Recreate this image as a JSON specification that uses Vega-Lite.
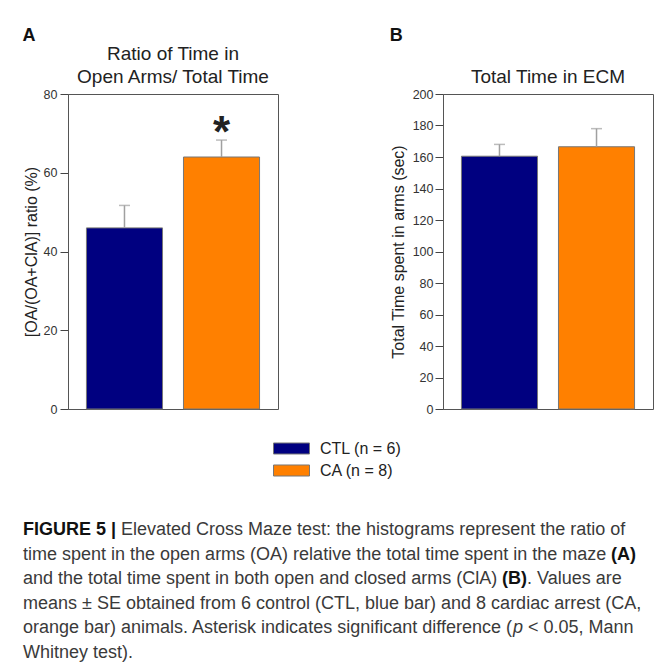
{
  "$schema": "https://vega.github.io/schema/vega-lite/v6.json",
  "background": "white",
  "padding": {"left": 22, "top": 26, "right": 0, "bottom": 0},
  "config": {
    "font": "Liberation Sans",
    "view": {"stroke": "#555", "strokeWidth": 1},
    "axis": {"labelFont": "Liberation Sans", "labelFontSize": 12.5, "labelColor": "#333", "tickColor": "#444", "domainColor": "#555", "grid": false, "titleFont": "Liberation Sans", "titleFontWeight": "normal", "titleFontSize": 16, "titleColor": "#222", "tickSize": 8, "labelPadding": 3, "labelOverlap": false},
    "title": {"font": "Liberation Sans", "color": "#222"},
    "text": {"font": "Liberation Sans"}
  },
  "datasets": {
    "ratio": [
      {"group": "CTL (n = 6)", "mean": 46, "upper": 51.7, "sig": ""},
      {"group": "CA (n = 8)", "mean": 64, "upper": 68.3, "sig": "*"}
    ],
    "total": [
      {"group": "CTL (n = 6)", "mean": 160.5, "upper": 168},
      {"group": "CA (n = 8)", "mean": 166.5, "upper": 178}
    ],
    "caption": [
      {"line": 1, "seg": "b0", "text": "FIGURE 5 |"},
      {"line": 1, "seg": "n1", "text": "Elevated Cross Maze test: the histograms represent the ratio of"},
      {"line": 2, "seg": "n0", "text": "time spent in the open arms (OA) relative the total time spent in the maze"},
      {"line": 2, "seg": "bA", "text": "(A)"},
      {"line": 3, "seg": "n0", "text": "and the total time spent in both open and closed arms (ClA)"},
      {"line": 3, "seg": "bB", "text": "(B)"},
      {"line": 3, "seg": "n3", "text": ". Values are"},
      {"line": 4, "seg": "n0", "text": "means ± SE obtained from 6 control (CTL, blue bar) and 8 cardiac arrest (CA,"},
      {"line": 5, "seg": "n0", "text": "orange bar) animals. Asterisk indicates significant difference ("},
      {"line": 5, "seg": "ip", "text": "p"},
      {"line": 5, "seg": "n5", "text": "< 0.05, Mann"},
      {"line": 6, "seg": "n0", "text": "Whitney test)."}
    ]
  },
  "spacing": 105,
  "vconcat": [
    {
      "spacing": 110,
      "hconcat": [
        {
          "title": {"text": "A", "anchor": "start", "frame": "bounds", "fontSize": 18, "fontWeight": "bold", "color": "#111", "offset": 0},
          "vconcat": [
            {
              "width": 210,
              "height": 315,
              "title": {"text": ["Ratio of Time in", "Open Arms/ Total Time"], "fontSize": 19, "fontWeight": "normal", "lineHeight": 23, "frame": "group", "anchor": "middle", "offset": 1},
              "data": {"name": "ratio"},
              "encoding": {
                "x": {"field": "group", "type": "nominal", "scale": {"domain": ["CTL (n = 6)", "CA (n = 8)"], "paddingInner": 0.216, "paddingOuter": 0.19}, "axis": null}
              },
              "layer": [
                {
                  "mark": {"type": "bar", "stroke": "#777", "strokeWidth": 1},
                  "encoding": {
                    "y": {"field": "mean", "type": "quantitative", "title": "[OA/(OA+ClA)] ratio (%)", "scale": {"domain": [0, 80], "nice": false}, "axis": {"values": [0, 20, 40, 60, 80], "titlePadding": 4}},
                    "color": {"field": "group", "type": "nominal", "scale": {"domain": ["CTL (n = 6)", "CA (n = 8)"], "range": ["#000080", "#ff8000"]},
                      "legend": {"orient": "none", "legendX": 205, "legendY": 346.5, "title": null, "symbolType": "M-1,-0.3056H1V0.3056H-1Z", "symbolSize": 1296, "symbolStrokeColor": "#666", "symbolStrokeWidth": 1, "labelFontSize": 16, "labelFont": "Liberation Sans", "labelColor": "#222", "labelOffset": 10, "clipHeight": 16, "rowPadding": 6}}
                  }
                },
                {
                  "mark": {"type": "rule", "color": "#a0a0a0", "strokeWidth": 1.5},
                  "encoding": {"y": {"field": "mean", "type": "quantitative", "title": "[OA/(OA+ClA)] ratio (%)", "axis": {"values": [0, 20, 40, 60, 80], "titlePadding": 4}}, "y2": {"field": "upper"}}
                },
                {
                  "mark": {"type": "tick", "color": "#a0a0a0", "thickness": 1.5, "size": 11},
                  "encoding": {"y": {"field": "upper", "type": "quantitative", "title": "[OA/(OA+ClA)] ratio (%)", "axis": {"values": [0, 20, 40, 60, 80], "titlePadding": 4}}}
                },
                {
                  "mark": {"type": "text", "fontSize": 44, "fontWeight": "bold", "color": "#222", "baseline": "alphabetic", "dy": 7},
                  "encoding": {"y": {"field": "upper", "type": "quantitative", "title": "[OA/(OA+ClA)] ratio (%)", "axis": {"values": [0, 20, 40, 60, 80], "titlePadding": 4}}, "text": {"field": "sig"}}
                }
              ]
            }
          ]
        },
        {
          "title": {"text": "B", "anchor": "start", "frame": "bounds", "fontSize": 18, "fontWeight": "bold", "color": "#111", "offset": 23},
          "vconcat": [
            {
              "width": 210,
              "height": 315,
              "title": {"text": "Total Time in ECM", "fontSize": 19, "fontWeight": "normal", "frame": "group", "anchor": "middle", "offset": 1},
              "data": {"name": "total"},
              "encoding": {
                "x": {"field": "group", "type": "nominal", "scale": {"domain": ["CTL (n = 6)", "CA (n = 8)"], "paddingInner": 0.216, "paddingOuter": 0.19}, "axis": null}
              },
              "layer": [
                {
                  "mark": {"type": "bar", "stroke": "#777", "strokeWidth": 1},
                  "encoding": {
                    "y": {"field": "mean", "type": "quantitative", "title": "Total Time spent in arms (sec)", "scale": {"domain": [0, 200], "nice": false}, "axis": {"values": [0, 20, 40, 60, 80, 100, 120, 140, 160, 180, 200], "tickCount": 11, "labelOverlap": false, "labelPadding": 2, "titlePadding": 6}},
                    "color": {"field": "group", "type": "nominal"}
                  }
                },
                {
                  "mark": {"type": "rule", "color": "#a0a0a0", "strokeWidth": 1.5},
                  "encoding": {"y": {"field": "mean", "type": "quantitative", "title": "Total Time spent in arms (sec)", "axis": {"values": [0, 20, 40, 60, 80, 100, 120, 140, 160, 180, 200], "tickCount": 11, "labelOverlap": false, "labelPadding": 2, "titlePadding": 6}}, "y2": {"field": "upper"}}
                },
                {
                  "mark": {"type": "tick", "color": "#a0a0a0", "thickness": 1.5, "size": 11},
                  "encoding": {"y": {"field": "upper", "type": "quantitative", "title": "Total Time spent in arms (sec)", "axis": {"values": [0, 20, 40, 60, 80, 100, 120, 140, 160, 180, 200], "tickCount": 11, "labelOverlap": false, "labelPadding": 2, "titlePadding": 6}}}
                }
              ]
            }
          ]
        }
      ]
    },
    {
      "width": 610,
      "height": 122.5,
      "view": {"stroke": null},
      "data": {"name": "caption"},
      "encoding": {
        "y": {"field": "line", "type": "quantitative", "scale": {"domain": [1, 6], "reverse": true, "nice": false, "zero": false}, "axis": null}
      },
      "layer": [
        {"transform": [{"filter": "datum.seg === 'n0'"}], "mark": {"type": "text", "x": -45, "align": "left", "baseline": "alphabetic", "fontSize": 18, "color": "#3a3a3a"}, "encoding": {"text": {"field": "text"}}},
        {"transform": [{"filter": "datum.seg === 'b0'"}], "mark": {"type": "text", "x": -45, "align": "left", "baseline": "alphabetic", "fontSize": 18, "fontWeight": "bold", "color": "#111"}, "encoding": {"text": {"field": "text"}}},
        {"transform": [{"filter": "datum.seg === 'n1'"}], "mark": {"type": "text", "x": -45, "dx": 98, "align": "left", "baseline": "alphabetic", "fontSize": 18, "color": "#3a3a3a"}, "encoding": {"text": {"field": "text"}}},
        {"transform": [{"filter": "datum.seg === 'bA'"}], "mark": {"type": "text", "x": -45, "dx": 588, "align": "left", "baseline": "alphabetic", "fontSize": 18, "fontWeight": "bold", "color": "#111"}, "encoding": {"text": {"field": "text"}}},
        {"transform": [{"filter": "datum.seg === 'bB'"}], "mark": {"type": "text", "x": -45, "dx": 479, "align": "left", "baseline": "alphabetic", "fontSize": 18, "fontWeight": "bold", "color": "#111"}, "encoding": {"text": {"field": "text"}}},
        {"transform": [{"filter": "datum.seg === 'n3'"}], "mark": {"type": "text", "x": -45, "dx": 504, "align": "left", "baseline": "alphabetic", "fontSize": 18, "color": "#3a3a3a"}, "encoding": {"text": {"field": "text"}}},
        {"transform": [{"filter": "datum.seg === 'ip'"}], "mark": {"type": "text", "x": -45, "dx": 490, "align": "left", "baseline": "alphabetic", "fontSize": 18, "fontStyle": "italic", "color": "#3a3a3a"}, "encoding": {"text": {"field": "text"}}},
        {"transform": [{"filter": "datum.seg === 'n5'"}], "mark": {"type": "text", "x": -45, "dx": 505, "align": "left", "baseline": "alphabetic", "fontSize": 18, "color": "#3a3a3a"}, "encoding": {"text": {"field": "text"}}}
      ]
    }
  ]
}
